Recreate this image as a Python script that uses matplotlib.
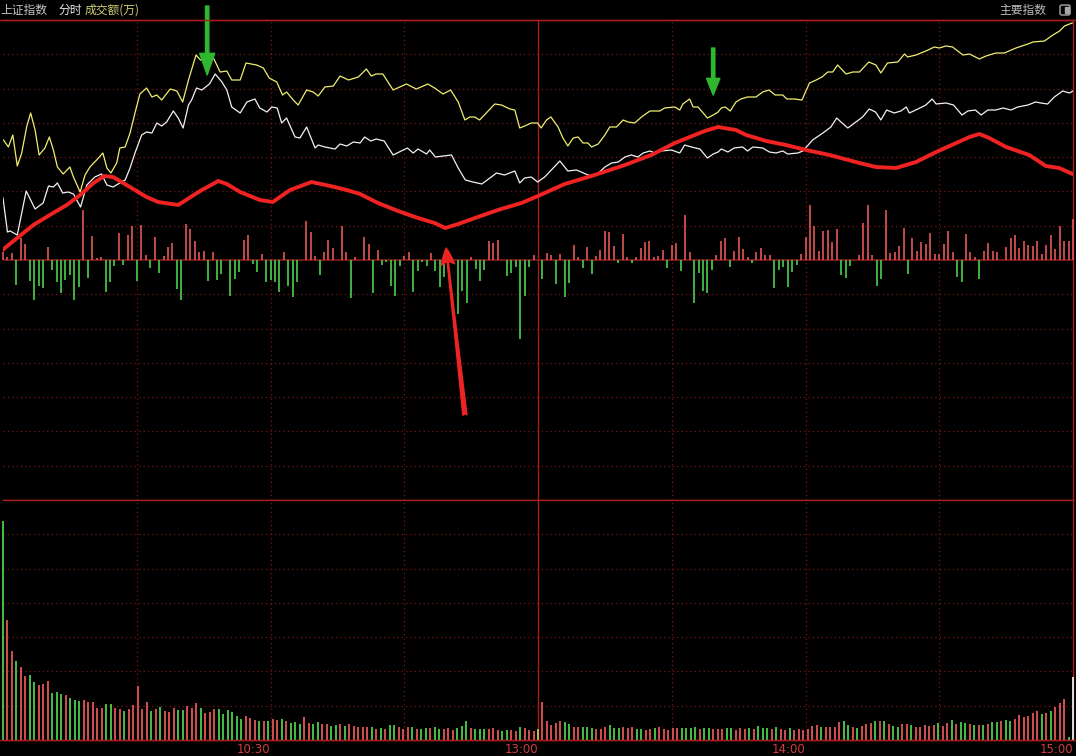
import numpy as np
import matplotlib
matplotlib.use('Agg')
import matplotlib.pyplot as plt
from matplotlib.lines import Line2D
from matplotlib.patches import Rectangle, FancyBboxPatch

plt.rcParams['font.family'] = ['Noto Sans CJK SC', 'DejaVu Sans']

# --- data (minutes since 9:30, trading time; values in panel units) ---
YELLOW_T = [0.1, 1.2, 2.2, 3.2, 4.2, 5.3, 6.2, 7.2, 8.1, 9.4,
            10.4, 11.3, 12.2, 13.5, 15.0, 15.8, 17.3, 18.4, 19.5, 21.0,
            22.4, 23.3, 24.2, 25.5, 26.2, 27.4, 28.5, 29.6, 30.7, 32.2,
            33.4, 34.5, 35.6, 37.5, 39.0, 40.3, 41.6, 43.3, 44.3, 45.7,
            47.2, 48.7, 50.2, 51.3, 53.2, 54.5, 56.9, 58.4, 59.7, 61.4,
            62.7, 63.6, 65.1, 66.2, 68.1, 69.6, 70.7, 72.2, 74.1, 75.6,
            77.5, 79.7, 81.5, 82.6, 83.7, 85.2, 87.5, 90.5, 92.7, 95.3,
            96.8, 98.7, 100.4, 102.1, 103.6, 104.7, 105.8, 106.9, 108.8, 110.3,
            111.8, 113.7, 114.8, 115.9, 117.0, 118.5, 119.9, 120.7, 121.9, 122.9,
            124.5, 125.6, 126.7, 127.9, 129.0, 130.1, 131.2, 132.0, 133.5, 135.0,
            136.1, 137.6, 139.1, 140.2, 141.7, 143.2, 145.1, 147.3, 148.4, 150.7,
            151.8, 152.5, 154.0, 154.8, 155.9, 158.0, 159.3, 160.4, 161.1, 162.0,
            163.1, 164.4, 165.5, 167.0, 168.9, 170.4, 171.8, 173.2, 174.9, 175.8,
            177.5, 179.2, 180.9, 182.4, 183.7, 185.0, 186.1, 187.2, 189.1, 190.6,
            192.1, 194.2, 195.8, 196.9, 198.4, 200.7, 202.2, 202.9, 204.8, 207.0,
            208.9, 210.0, 211.5, 213.0, 215.3, 216.8, 219.0, 220.5, 222.7, 224.6,
            227.2, 229.9, 231.0, 233.6, 235.5, 237.0, 238.1, 239.8]
YELLOW_V = [120, 113, 125, 94, 107, 133, 147, 130, 105, 112,
            123, 110, 93, 86, 93, 83, 68, 85, 93, 100,
            107, 92, 87, 97, 112, 113, 127, 147, 166, 172,
            163, 165, 160, 171, 169, 158, 180, 205, 200, 201,
            202, 188, 189, 180, 180, 197, 195, 192, 182, 178,
            165, 168, 160, 155, 170, 168, 164, 173, 174, 184,
            180, 183, 191, 184, 186, 186, 170, 176, 171, 176,
            172, 166, 170, 158, 140, 143, 143, 140, 149, 156,
            155, 151, 150, 132, 134, 137, 137, 132, 140, 143,
            133, 122, 114, 122, 123, 117, 117, 113, 116, 125,
            133, 133, 140, 138, 137, 143, 149, 149, 152, 153,
            150, 156, 161, 153, 153, 142, 145, 148, 152, 153,
            149, 158, 161, 163, 163, 168, 170, 165, 165, 161,
            161, 160, 177, 180, 183, 188, 188, 195, 186, 188,
            188, 198, 195, 187, 197, 198, 206, 203, 205, 209,
            213, 212, 214, 213, 205, 206, 201, 204, 207, 207,
            212, 216, 218, 219, 225, 229, 234, 237]

WHITE_T = [0, 1.0, 1.6, 3.2, 5.2, 7.2, 9.0, 10.2, 11.3, 12.2,
           13.4, 14.6, 15.8, 17.4, 18.8, 20.6, 22.1, 23.3, 24.7, 26.2,
           27.4, 28.5, 29.6, 31.1, 32.2, 33.4, 34.5, 35.6, 36.7, 38.2,
           39.3, 40.4, 41.6, 42.3, 43.4, 44.6, 46.3, 47.6, 49.1, 50.2,
           51.3, 53.2, 54.7, 56.5, 57.6, 59.2, 60.3, 61.5, 62.5, 63.6,
           65.5, 66.6, 68.1, 70.0, 70.7, 72.2, 74.5, 75.6, 77.1, 78.6,
           80.1, 81.1, 82.5, 83.7, 85.5, 87.5, 90.7, 92.0, 93.1, 95.0,
           95.7, 97.0, 98.9, 100.6, 102.1, 103.7, 105.4, 107.4, 109.2, 110.7,
           112.5, 114.8, 115.9, 117.0, 118.5, 119.9, 121.5, 123.4, 124.9, 126.7,
           128.6, 129.7, 131.2, 132.3, 133.8, 135.0, 136.5, 138.0, 139.5, 140.9,
           142.4, 143.6, 145.1, 146.2, 147.7, 149.9, 151.8, 152.9, 154.4, 156.3,
           158.0, 159.3, 160.4, 161.1, 162.6, 164.0, 165.9, 167.0, 168.2, 170.4,
           171.9, 173.4, 174.9, 176.0, 178.3, 179.4, 181.6, 183.9, 185.7, 187.0,
           188.2, 189.5, 191.0, 192.8, 194.3, 195.7, 196.9, 198.2, 199.9, 201.4,
           202.6, 203.3, 205.2, 207.0, 208.4, 209.3, 211.5, 213.2, 215.1, 216.4,
           218.1, 219.4, 220.9, 222.7, 224.3, 226.1, 227.6, 229.9, 231.6, 232.8,
           234.3, 235.8, 237.7, 239.2, 240.0]
WHITE_V = [62, 28, 29, 25, 69, 51, 57, 74, 73, 77,
           67, 68, 66, 53, 75, 83, 86, 75, 73, 77,
           80, 92, 107, 125, 128, 127, 137, 134, 138, 149,
           142, 132, 155, 160, 172, 170, 176, 186, 178, 170,
           153, 147, 158, 161, 152, 148, 153, 152, 137, 142,
           123, 122, 133, 112, 115, 113, 111, 116, 114, 118,
           117, 123, 119, 121, 119, 105, 112, 107, 111, 106,
           110, 103, 104, 105, 92, 80, 78, 76, 82, 87,
           85, 89, 77, 82, 83, 78, 83, 92, 99, 89,
           90, 88, 85, 84, 88, 93, 97, 98, 103, 105,
           103, 107, 109, 107, 109, 110, 107, 115, 113, 111,
           102, 106, 108, 111, 108, 112, 113, 109, 113, 112,
           108, 107, 109, 106, 107, 109, 120, 127, 133, 142,
           137, 132, 137, 143, 151, 148, 140, 150, 147, 149,
           153, 147, 151, 155, 161, 156, 157, 155, 145, 149,
           150, 145, 150, 150, 152, 150, 153, 155, 158, 157,
           156, 163, 169, 167, 169]

RED_T = [0, 0.4, 6.8, 10.5, 14.3, 17.3, 20.3, 22.7, 24.7, 27.7,
         32.2, 34.8, 39.3, 44.2, 48.3, 50.2, 53.2, 57.6, 60.5, 64.4,
         69.2, 73.4, 77.1, 80.1, 84.1, 88.6, 93.1, 96.8, 99.2, 102.1,
         106.5, 111.0, 116.3, 120.0, 126.0, 132.0, 139.5, 145.4, 150.7, 157.4,
         160.4, 164.4, 166.7, 171.2, 175.6, 180.1, 185.4, 192.1, 195.8, 200.3,
         204.8, 209.3, 213.8, 216.8, 219.0, 221.2, 225.0, 230.2, 233.9, 236.9,
         239.9]
RED_V = [10, 12, 35, 45, 55, 65, 77, 84, 83, 75,
         63, 58, 55, 69, 79, 76, 68, 60, 58, 70,
         78, 74, 70, 66, 57, 49, 42, 37, 32, 36,
         43, 50, 57, 64, 76, 84, 95, 105, 117, 129,
         133, 130, 125, 119, 115, 110, 105, 97, 93, 92,
         98, 108, 117, 123, 126, 122, 113, 105, 94, 92,
         86]

UP_T = [0, 1, 2, 4, 5, 10, 18, 20, 21, 22, 26, 28, 29, 31, 32, 34, 36, 37, 38, 41,
        42, 43, 44, 45, 47, 54, 55, 58, 63, 68, 69, 70, 72, 73, 74, 76, 77, 79, 81, 82,
        84, 90, 91, 96, 105, 109, 110, 111, 119,
        122, 123, 125, 128, 129, 131, 133, 134, 135, 136, 137, 139, 140, 142, 143, 144,
        145, 146, 147, 148, 150, 151, 153, 154, 160, 161, 162, 164, 165, 166, 167, 169,
        170, 171, 172, 179, 180, 181, 182, 183, 184, 185, 186, 187, 192, 193, 194, 195,
        198, 199, 200, 201, 202, 204, 205, 206, 207, 208, 209, 210, 211, 212, 213, 216,
        217, 218, 220, 221, 222, 223, 225, 226, 227, 228, 229, 230, 231, 232, 233, 234,
        235, 236, 237, 238, 239, 240]
UP_V = [8, 3, 7, 22, 16, 13, 50, 24, 2, 3, 27, 25, 34, 35, 5, 23, 4, 13, 17, 36,
        31, 19, 8, 9, 8, 20, 25, 6, 8, 39, 28, 4, 8, 20, 12, 34, 8, 3, 23, 16,
        10, 4, 8, 7, 3, 19, 17, 20, 5,
        7, 5, 6, 15, 3, 13, 4, 10, 29, 28, 14, 26, 3, 3, 12, 18,
        19, 3, 4, 10, 15, 17, 45, 8, 5, 19, 22, 9, 23, 11, 3, 8,
        12, 5, 5, 6, 23, 55, 34, 9, 29, 30, 18, 31, 5, 37, 55, 5,
        50, 7, 8, 14, 32, 22, 9, 18, 16, 27, 6, 6, 16, 29, 8, 26,
        8, 3, 9, 17, 9, 8, 13, 22, 25, 12, 19, 15, 14, 19, 6, 15,
        25, 11, 34, 19, 19, 41]
DN_T = [3, 6, 7, 8, 9, 11, 12, 13, 14, 15, 16, 17, 19, 23, 24, 25, 27, 30, 33, 35,
        39, 40, 46, 48, 49, 51, 52, 53, 56, 57, 59, 60, 61, 62, 64, 65, 66, 71, 78, 83,
        85, 86, 87, 88, 89, 92, 93, 94, 95, 97, 98, 99, 102, 103, 104, 106, 107, 108,
        113, 114, 115, 116, 117, 118,
        121, 124, 126, 127, 130, 132, 138, 141, 149, 152, 155, 156, 157, 158, 159, 163,
        168, 173, 174, 175, 176, 177, 178, 188, 189, 190, 196, 197, 203, 214, 215, 219]
DN_V = [25, 21, 40, 26, 28, 10, 22, 33, 20, 15, 40, 27, 18, 32, 22, 6, 5, 21, 8, 13,
        29, 40, 21, 20, 14, 36, 19, 12, 4, 12, 22, 20, 22, 32, 26, 37, 22, 15, 38, 33,
        5, 2, 26, 36, 6, 32, 11, 2, 6, 11, 27, 17, 54, 31, 43, 9, 21, 10,
        16, 13, 7, 79, 36, 7,
        19, 24, 37, 23, 8, 14, 3, 3, 8, 11, 43, 13, 31, 33, 10, 7,
        3, 28, 10, 7, 27, 12, 5, 15, 18, 6, 26, 19, 14, 17, 22, 19]

VOL = [219, 120, 89, 79, 73, 64, 65, 58, 55, 56, 59, 47, 48, 46, 45, 42, 40, 39, 40, 38,
       38, 32, 32, 36, 36, 32, 31, 29, 31, 35, 54, 31, 38, 29, 31, 33, 29, 28, 32, 30,
       30, 34, 32, 37, 32, 27, 28, 31, 31, 26, 30, 28, 24, 21, 24, 22, 20, 19, 19, 19,
       21, 20, 21, 19, 17, 18, 16, 23, 17, 16, 18, 16, 16, 14, 15, 16, 14, 16, 14, 13,
       13, 13, 13, 11, 12, 11, 15, 15, 13, 11, 13, 13, 11, 11, 12, 12, 13, 11, 11, 12,
       10, 12, 14, 19, 12, 11, 11, 11, 11, 12, 10, 9, 10, 10, 9, 13, 12, 10, 9, 11,
       38, 19, 15, 17, 19, 18, 16, 13, 13, 13, 13, 12, 11, 11, 13, 15, 12, 12, 13, 12,
       13, 11, 11, 10, 11, 12, 13, 11, 10, 12, 12, 12, 12, 12, 13, 11, 12, 12, 11, 11,
       11, 12, 12, 10, 12, 11, 12, 11, 14, 12, 12, 11, 13, 11, 10, 12, 10, 11, 10, 11,
       14, 15, 13, 13, 13, 13, 18, 19, 15, 13, 12, 14, 16, 17, 19, 19, 19, 16, 14, 13,
       16, 16, 15, 13, 13, 15, 14, 15, 17, 14, 17, 20, 16, 18, 17, 16, 15, 15, 15, 16,
       18, 18, 19, 20, 19, 21, 25, 23, 24, 27, 29, 26, 27, 29, 33, 37, 41, 3, 63]
VOL_C = ("GRRGRRGGRR" "RGGGRGGGRR" "RRRGGRRGRR" "RRRGRGRRRG" "GRRRGRRRGG" "GGGGRRRGRG"
         "RRGRGGGRRG" "GRRGGRGRRR" "RRGRGRGGRR" "RGRGGRGGRR" "RGGGRGGGRR" "RGGRRGRRRY"
         "RRRRRGGRRG" "GGRRRGGGRR" "RGGRRGRRRR" "RGGGGRGGRR" "RGGRRRGRGG" "GRGRRGRRRR"
         "RRGRRRRGGR" "GRRRGRGRGG" "RRGRRRRRGR" "RGRGGRGRGR" "GGRGGRRRRR" "RGRGRRRGW")

TIME_TICKS = [60, 120, 180, 240]
TIME_LABELS = ['10:30', '13:00', '14:00', '15:00']

# --- style ---
BG = '#000000'
GRID = '#7a1616'
FRAME = '#a81e1e'
BAR_COLORS = {'R': '#e25656', 'G': '#4ccf4c', 'Y': '#c8c850', 'W': '#eeeeee'}
W, H = 1076, 756

fig = plt.figure(figsize=(W / 100, H / 100), dpi=100, facecolor=BG)
ax = fig.add_axes([3 / W, (H - 500) / H, 1070 / W, 480 / H], facecolor=BG)
axv = fig.add_axes([3 / W, (H - 740) / H, 1070 / W, 240 / H], facecolor=BG)

dotted = (0, (1, 2.5))
for a, rows in [(ax, np.linspace(-240, 240, 15)[1:-1]), (axv, np.linspace(0, 240, 8)[1:-1])]:
    a.set_xlim(0, 240)
    for v in rows:
        if abs(v) > 1e-6:
            a.axhline(v, color=GRID, lw=0.9, ls=dotted, zorder=1)
    for m in [30, 60, 90, 150, 180, 210]:
        a.axvline(m, color=GRID, lw=0.9, ls=dotted, zorder=1)
    a.axvline(120, color=FRAME, lw=1.0, zorder=1)
    a.set_yticks([])
    a.spines['left'].set_visible(False)
    for s in ['top', 'right', 'bottom']:
        a.spines[s].set_color(FRAME)
        a.spines[s].set_linewidth(1.0)

ax.set_ylim(-240, 240)
ax.set_xticks([])
ax.axhline(0, color='#8a1c1c', lw=1.2, zorder=2)

# buy/sell bars around the zero line
ax.vlines(UP_T, 0, UP_V, color=BAR_COLORS['R'], lw=1.2, zorder=3, clip_on=False)
ax.vlines(DN_T, -np.array(DN_V), 0, color=BAR_COLORS['G'], lw=1.2, zorder=3, clip_on=False)

ax.plot(WHITE_T, WHITE_V, color='#f2f2f2', lw=0.9, zorder=4)
ax.plot(YELLOW_T, YELLOW_V, color='#f0ee70', lw=0.9, zorder=4)
ax.plot(RED_T, RED_V, color='#f02222', lw=2.8, zorder=5, solid_capstyle='round')

# volume panel
axv.set_ylim(0, 240)
vol_t = np.arange(len(VOL)) * 240 / (len(VOL) - 1)
axv.vlines(vol_t, 0, VOL, colors=[BAR_COLORS[c] for c in VOL_C], lw=1.3, zorder=3,
           clip_on=False)
axv.set_xticks(TIME_TICKS)
axv.set_xticklabels(TIME_LABELS, ha='right')
axv.tick_params(axis='x', length=0, pad=2, labelsize=8.5, labelcolor='#d23c3c')
for lab in axv.get_xticklabels():
    lab.set_fontfamily('DejaVu Sans')

# arrows drawn on the chart
arrows = [((45.8, 185), (45.8, 254), '#2fb82f', 'simple,head_length=1.3,head_width=0.9,tail_width=0.2'),
          ((159.3, 165), (159.3, 212), '#2fb82f', 'simple,head_length=1.0,head_width=0.8,tail_width=0.2'),
          ((99.4, 12), (103.6, -155), '#ee2424', 'fancy,head_length=1.0,head_width=0.8,tail_width=0.25')]
for tip, tail, col, style in arrows:
    ann = ax.annotate('', xy=tip, xytext=tail, annotation_clip=False, zorder=6,
                      arrowprops=dict(arrowstyle=style, color=col, shrinkA=0, shrinkB=0,
                                      mutation_scale=12))
    ann.arrow_patch.set_clip_on(False)

# frame lines across full width
fig.add_artist(Line2D([0, 1], [1 - 20 / H] * 2, color=FRAME, lw=1.0))
fig.add_artist(Line2D([0, 1], [1 - 740 / H] * 2, color=FRAME, lw=1.0))

# header texts
ty = 1 - 10 / H
fig.text(0 / W, ty, '上证指数', color='#c4c4c4', fontsize=8.5, va='center', ha='left')
fig.text(58 / W, ty, '分时', color='#e8e8e8', fontsize=8.5, va='center', ha='left')
fig.text(85 / W, ty, '成交额(万)', color='#cfcf78', fontsize=8.5, va='center', ha='left')
fig.text(1046 / W, ty, '主要指数', color='#bdbdbd', fontsize=8.5, va='center', ha='right')
fig.add_artist(FancyBboxPatch((1060 / W, 1 - 15 / H), 10 / W, 10 / H,
                              boxstyle='round,pad=0,rounding_size=0.002',
                              transform=fig.transFigure, fill=False, ec='#a8a8a8', lw=1.0))
fig.add_artist(Rectangle((1065 / W, 1 - 13 / H), 4 / W, 6 / H, transform=fig.transFigure,
                         color='#a8a8a8'))

fig.savefig('out.png', dpi=100, facecolor=BG)
